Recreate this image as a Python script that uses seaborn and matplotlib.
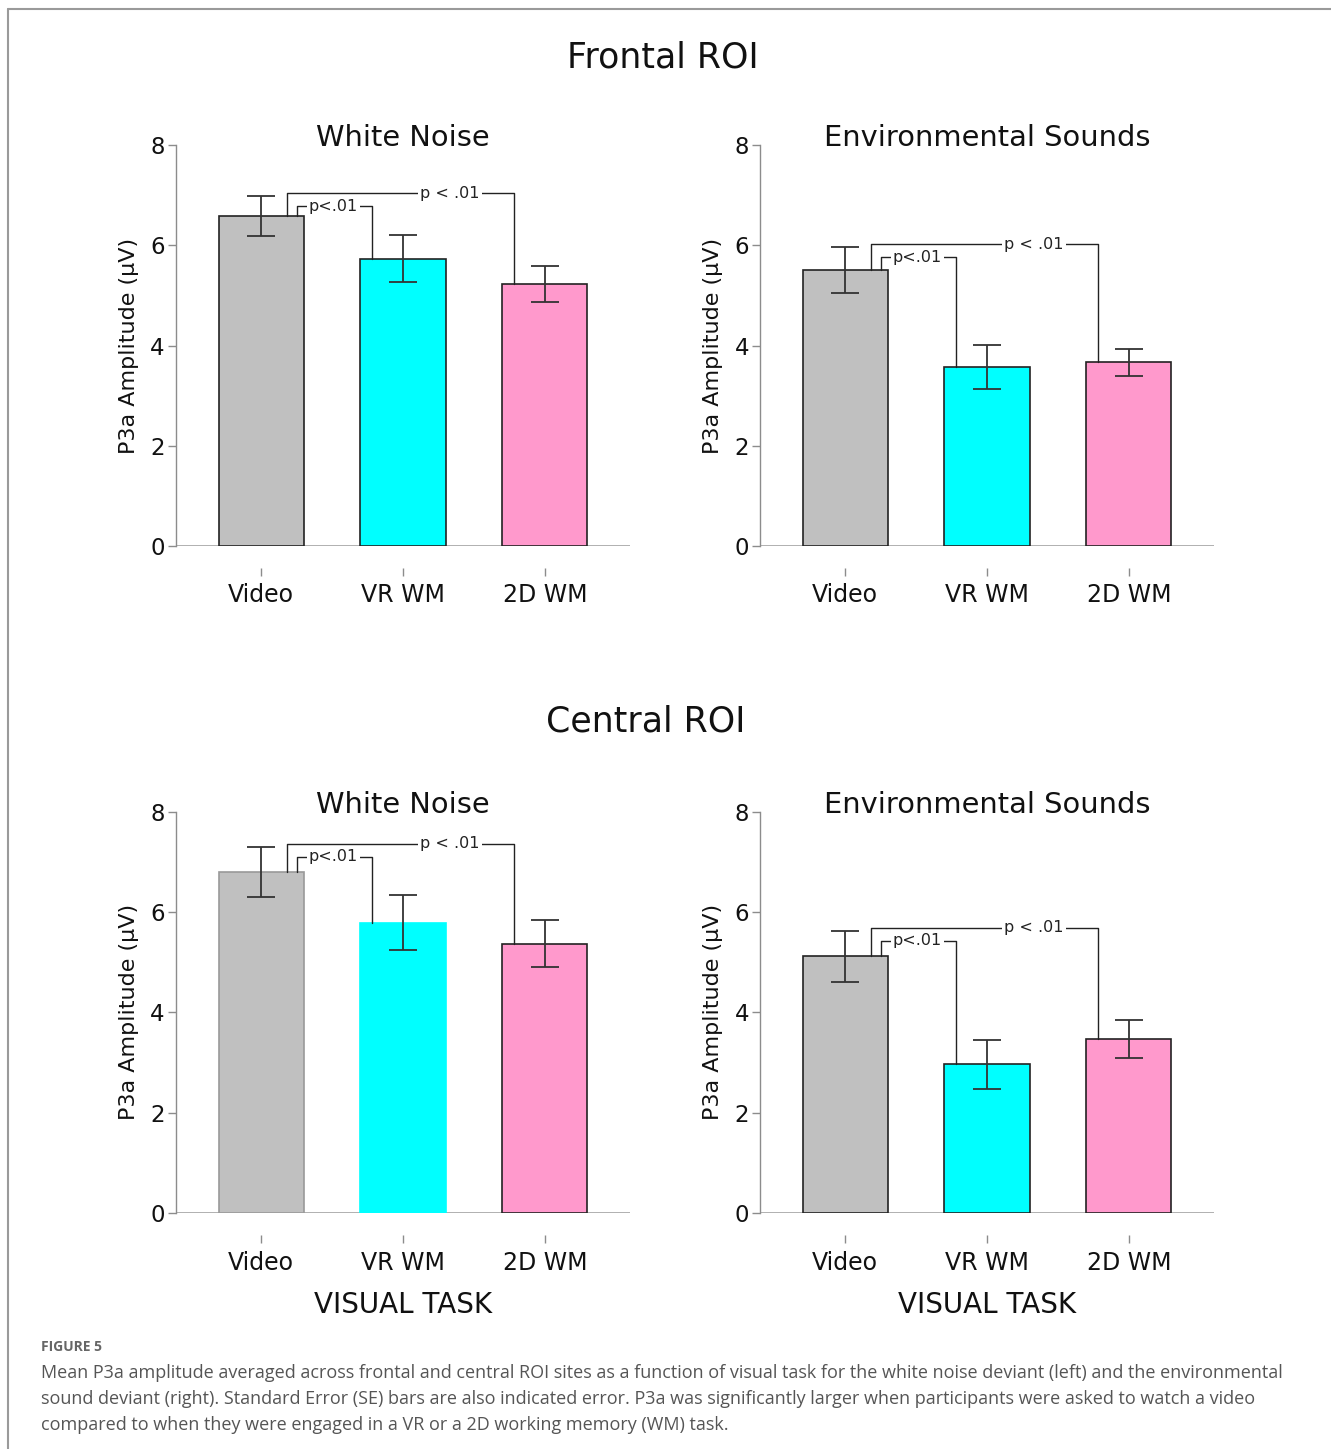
"""
Mean P3a amplitude by visual task, frontal and central ROI (Figure 5).
"""

import numpy as np
import pandas as pd
import matplotlib
matplotlib.use("Agg")
import matplotlib.pyplot as plt
import seaborn as sns
from matplotlib.lines import Line2D

# categories
tasks = ["Video", "VR WM", "2D WM"]

# frontal ROI, means and standard errors
frontal_wn_mean = [6.58, 5.73, 5.22]
frontal_wn_se = [0.40, 0.47, 0.36]
frontal_es_mean = [5.50, 3.58, 3.67]
frontal_es_se = [0.46, 0.44, 0.27]

# central ROI, means and standard errors
central_wn_mean = [6.80, 5.79, 5.37]
central_wn_se = [0.50, 0.55, 0.47]
central_es_mean = [5.12, 2.97, 3.47]
central_es_se = [0.51, 0.49, 0.38]

y_ticks = [0, 2, 4, 6, 8]
p_pair = "p<.01"
p_far = "p < .01"

caption = (
    "Mean P3a amplitude averaged across frontal and central ROI sites as a function of visual task for the white noise deviant (left) and the environmental\n"
    "sound deviant (right). Standard Error (SE) bars are also indicated error. P3a was significantly larger when participants were asked to watch a video\n"
    "compared to when they were engaged in a VR or a 2D working memory (WM) task."
)

bar_colors = ["#C0C0C0", "#00FFFF", "#FF99CC"]
DARK = "#222222"
GRID = "#8c8c8c"
FONT = "DejaVu Sans"

sns.set_style("white")
plt.rcParams["font.family"] = [FONT]


def draw_panel(ax, means, ses, title, edges, show_xlabel):
    df = pd.DataFrame({"task": tasks, "amp": means})
    sns.barplot(data=df, x="task", y="amp", hue="task", palette=bar_colors,
                width=0.6, errorbar=None, legend=False, saturation=1, ax=ax)
    for patch, ec in zip(ax.patches, edges):
        patch.set_edgecolor(ec)
        patch.set_linewidth(1.2)
        patch.set_zorder(2)

    ax.errorbar(np.arange(len(tasks)), means, yerr=ses, fmt="none",
                ecolor="#333333", elinewidth=1.3, capsize=10, capthick=1.3, zorder=3)

    # significance brackets: Video vs VR WM and Video vs 2D WM
    far = means[0] + ses[0] + 0.06
    near = far - 0.26
    ax.plot([0.25, 0.25, 0.78, 0.78], [means[0], near, near, means[1]],
            color=DARK, lw=1.0, zorder=4)
    ax.plot([0.18, 0.18, 1.78, 1.78], [means[0], far, far, means[2]],
            color=DARK, lw=1.0, zorder=4)
    ax.text(0.51, near, p_pair, ha="center", va="center", fontsize=11.5, color=DARK,
            zorder=5, bbox=dict(fc="white", ec="none", pad=1.0))
    ax.text(1.33, far, p_far, ha="center", va="center", fontsize=11.5, color=DARK,
            zorder=5, bbox=dict(fc="white", ec="none", pad=1.5))

    ax.set_xlim(-0.6, 2.6)
    ax.set_ylim(0, 8)
    ax.set_yticks(y_ticks)
    ax.axhline(0, color="#aaaaaa", lw=1.3, zorder=1)

    sns.despine(ax=ax)
    ax.spines["left"].set_color(GRID)
    ax.spines["left"].set_linewidth(1.0)
    ax.spines["bottom"].set_position(("outward", 16))
    ax.spines["bottom"].set_visible(False)

    ax.tick_params(axis="y", direction="out", length=6, width=1, color=GRID,
                   pad=2, labelsize=16.5, labelcolor="#111111", left=True)
    ax.tick_params(axis="x", direction="out", length=6, width=1, color=GRID,
                   pad=5, labelsize=17, labelcolor="#111111", bottom=True)

    ax.set_ylabel("P3a Amplitude (\u03bcV)", fontsize=16, color="#111111", labelpad=8)
    if show_xlabel:
        ax.set_xlabel("VISUAL TASK", fontsize=20, color="#111111", labelpad=12)
    else:
        ax.set_xlabel("")
    ax.set_title(title, fontsize=20.8, color="#111111", pad=-1)


fig = plt.figure(figsize=(13.31, 14.49), dpi=100)

panels = [
    ([0.1322, 0.6232, 0.3411, 0.2767], frontal_wn_mean, frontal_wn_se, "White Noise",
     [DARK, DARK, DARK], False),
    ([0.5710, 0.6232, 0.3411, 0.2767], frontal_es_mean, frontal_es_se, "Environmental Sounds",
     [DARK, DARK, DARK], False),
    ([0.1322, 0.1627, 0.3411, 0.2772], central_wn_mean, central_wn_se, "White Noise",
     ["#999999", "#00FFFF", DARK], True),
    ([0.5710, 0.1627, 0.3411, 0.2772], central_es_mean, central_es_se, "Environmental Sounds",
     [DARK, DARK, DARK], True),
]

for rect, means, ses, title, edges, show_xlabel in panels:
    ax = fig.add_axes(rect)
    draw_panel(ax, means, ses, title, edges, show_xlabel)

fig.text(0.498, 1 - 57 / 1449, "Frontal ROI", ha="center", va="center",
         fontsize=25, color="#111111")
fig.text(0.4853, 1 - 722 / 1449, "Central ROI", ha="center", va="center",
         fontsize=25, color="#111111")

# caption block
fig.text(41 / 1331, 1 - 1347 / 1449, "FIGURE 5", ha="left", va="center",
         fontsize=10, fontweight="bold", color="#666666", family="Open Sans")
fig.text(41 / 1331, 1 - 1364 / 1449, caption, ha="left", va="top",
         fontsize=13, color="#555555", family="Open Sans", linespacing=1.56)

# page frame
fig.add_artist(Line2D([8 / 1331, 8 / 1331], [0, 1 - 9 / 1449], transform=fig.transFigure,
                      color="#9a9a9a", lw=1.5))
fig.add_artist(Line2D([8 / 1331, 1], [1 - 9 / 1449, 1 - 9 / 1449], transform=fig.transFigure,
                      color="#9a9a9a", lw=1.5))

fig.savefig("out.png", dpi=100, facecolor="white")
